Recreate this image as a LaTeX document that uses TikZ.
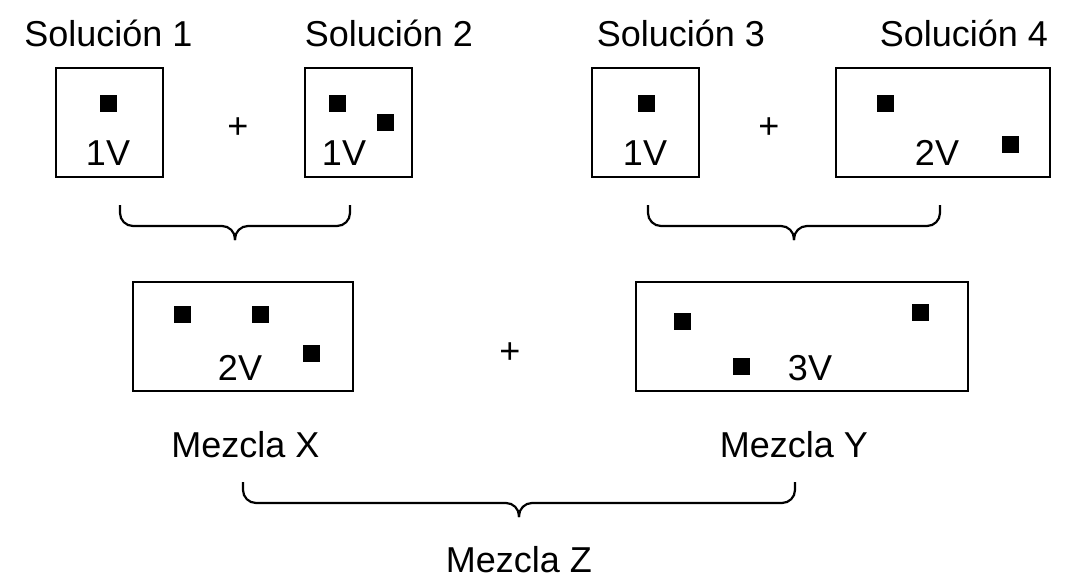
\documentclass[tikz,border=0pt]{standalone}
\usepackage{fontspec}
\setmainfont{Liberation Sans}
\usetikzlibrary{calc,positioning}
\tikzset{
 vessel/.style={draw, line width=2.4pt, inner sep=0pt, minimum height=109pt},
 grain/.style={fill=black, inner sep=0pt, minimum size=17pt},
 tag/.style={anchor=base, inner sep=0pt, font=\fontsize{36}{42}\selectfont},
 curly/.style={line width=2.2pt, rounded corners=13pt}
}
\begin{document}
\begin{tikzpicture}[x=1pt,y=-1pt]
\useasboundingbox (0,0) rectangle (1076,578);
% top row: the four solutions
\node[vessel, minimum width=107pt] (sol1) at (109.5,122.5) {};
\node[vessel, minimum width=107pt] (sol2) at (358.5,122.5) {};
\node[vessel, minimum width=107pt] (sol3) at (645.5,122.5) {};
\node[vessel, minimum width=214pt] (sol4) at (943,122.5) {};
\node[tag] (lsol1) at (108.5,47) {Solución 1};
\node[tag] (lsol2) at (389,47) {Solución 2};
\node[tag] (lsol3) at (681,47) {Solución 3};
\node[tag] (lsol4) at (964,47) {Solución 4};
\node[tag] (vol1) at (108,165) {1V};
\node[tag] (vol2) at (344,165) {1V};
\node[tag] (vol3) at (645,165) {1V};
\node[tag] (vol4) at (937,165) {2V};
\node[tag] (plus1) at (238,138) {+};
\node[tag] (plus2) at (769,138) {+};
% middle row: the two mixtures
\node[vessel, minimum width=220pt] (mixX) at (243,336.5) {};
\node[vessel, minimum width=332pt] (mixY) at (802,336.5) {};
\node[tag] (volX) at (240,380) {2V};
\node[tag] (volY) at (810,380) {3V};
\node[tag] (plus3) at (510,363) {+};
\node[tag] (lmixX) at (245.5,457) {Mezcla X};
\node[tag] (lmixY) at (794,457) {Mezcla Y};
\node[tag] (lmixZ) at (519,572) {Mezcla Z};
% particles
\foreach \gx/\gy [count=\i] in {108/103, 337/103, 385/122, 646/103, 885/103, 1010/144,
  182/314, 260/314, 311/353, 682/321, 741/366, 920/312}
  \node[grain] (grain\i) at (\gx,\gy) {};
% braces
\coordinate (b1a) at (120,205);
\coordinate (b1b) at (350,205);
\coordinate (b2a) at (648,205);
\coordinate (b2b) at (940,205);
\coordinate (b3a) at (243,482);
\coordinate (b3b) at (795,482);
\foreach \a/\b in {b1a/b1b, b2a/b2b, b3a/b3b}
  \foreach \e in {\a,\b}
    \draw[curly] (\e) |- ($(\a)!.5!(\b)+(0,21)$) -- ++(0,14);
\end{tikzpicture}
\end{document}
